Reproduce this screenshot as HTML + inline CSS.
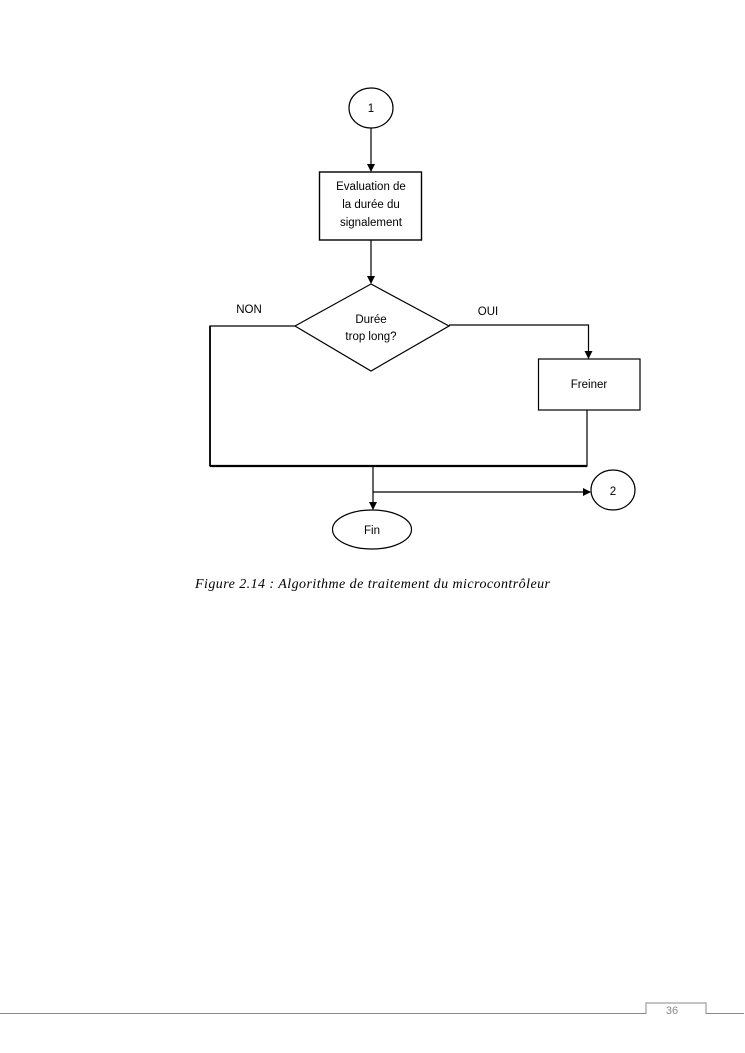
<!DOCTYPE html>
<html><head><style>
html,body{margin:0;padding:0;background:#fff;}
body{width:745px;height:1053px;position:relative;overflow:hidden;}
</style></head><body>
<svg width="745" height="1053" viewBox="0 0 745 1053" xmlns="http://www.w3.org/2000/svg" style="position:absolute;left:0;top:0">
<defs>
<marker id="a" markerWidth="8" markerHeight="8" refX="7" refY="4" orient="auto" markerUnits="userSpaceOnUse">
<path d="M0,0 L8,4 L0,8 z" fill="#000"/></marker>
</defs>
<g fill="none" stroke="#000" stroke-width="1.2">
<ellipse cx="371" cy="108" rx="22" ry="20" fill="#fff"/>
<line x1="371" y1="128" x2="371" y2="171" marker-end="url(#a)"/>
<rect x="319.5" y="172" width="102" height="68" stroke-width="1.4"/>
<line x1="371" y1="240" x2="371" y2="283" marker-end="url(#a)"/>
<polygon points="371,284 449,326 371,371 295,326"/>
<polyline points="295,326 210,326 210,466 587,466 587,410" stroke-width="1.2"/>
<line x1="210" y1="466" x2="587" y2="466" stroke-width="2.2"/>
<line x1="210" y1="326" x2="210" y2="466" stroke-width="1.8"/>
<polyline points="449,325 588.5,325 588.5,358" marker-end="url(#a)"/>
<rect x="538.5" y="359" width="101.5" height="51"/>
<line x1="373" y1="466" x2="373" y2="509" marker-end="url(#a)"/>
<line x1="373" y1="492" x2="590" y2="492" marker-end="url(#a)"/>
<ellipse cx="613" cy="490" rx="22" ry="20"/>
<ellipse cx="372" cy="529.5" rx="39.5" ry="19.5"/>
</g>
<g font-family="Liberation Sans, sans-serif" font-size="11.5" fill="#000" text-anchor="middle">
<text x="371" y="112">1</text>
<text x="371" y="190">Evaluation de</text>
<text x="371" y="208">la durée du</text>
<text x="371" y="226">signalement</text>
<text x="371" y="323">Durée</text>
<text x="371" y="340">trop long?</text>
<text x="249" y="313">NON</text>
<text x="488" y="315">OUI</text>
<text x="589" y="388">Freiner</text>
<text x="613" y="495">2</text>
<text x="372" y="534">Fin</text>
</g>
<text x="195" y="588" font-family="Liberation Serif, serif" font-style="italic" font-size="14" textLength="355" lengthAdjust="spacing">Figure 2.14 : Algorithme de traitement du microcontrôleur</text>
<g stroke="#888" fill="none" stroke-width="1">
<polyline points="0,1013.5 646,1013.5 646,1003 706,1003 706,1013.5 744,1013.5"/>
</g>
<text x="672" y="1014" font-family="Liberation Sans, sans-serif" font-size="11" fill="#888" text-anchor="middle">36</text>
</svg>
</body></html>
